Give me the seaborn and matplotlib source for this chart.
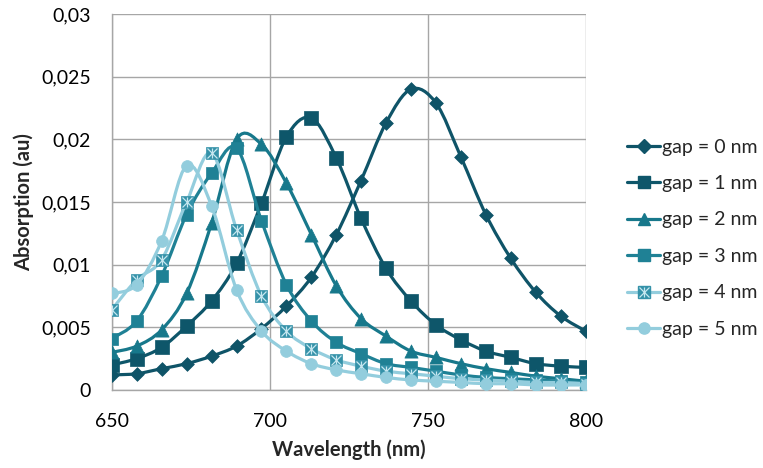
import numpy as np
import pandas as pd
import matplotlib
matplotlib.use("Agg")
import matplotlib.pyplot as plt
from matplotlib.path import Path
from matplotlib.patches import PathPatch
from matplotlib.lines import Line2D
from matplotlib.legend_handler import HandlerTuple
from matplotlib.ticker import FuncFormatter
import seaborn as sns

sns.set_style("white")
plt.rcParams['font.family'] = ['Lato', 'DejaVu Sans']

# wavelength grid (nm)
wavelength = [650.0, 657.9, 665.8, 673.7, 681.6, 689.5, 697.4, 705.3, 713.2, 721.1,
              728.9, 736.8, 744.7, 752.6, 760.5, 768.4, 776.3, 784.2, 792.1, 800.0]

# absorption per gap size
gap0 = [0.0012, 0.0013, 0.0017, 0.0021, 0.0027, 0.0035, 0.0049, 0.0067, 0.0090, 0.0124,
        0.0167, 0.0213, 0.0240, 0.0229, 0.0186, 0.0140, 0.0105, 0.0078, 0.0059, 0.0047]
gap1 = [0.0020, 0.0025, 0.0034, 0.0051, 0.0071, 0.0101, 0.0149, 0.0202, 0.0217, 0.0185,
        0.0137, 0.0097, 0.0071, 0.0052, 0.0040, 0.0031, 0.0026, 0.0021, 0.0019, 0.0018]
gap2 = [0.0030, 0.0035, 0.0048, 0.0077, 0.0133, 0.0200, 0.0196, 0.0165, 0.0124, 0.0083,
        0.0057, 0.0043, 0.0031, 0.0026, 0.0021, 0.0017, 0.0014, 0.0011, 0.0009, 0.0007]
gap3 = [0.0041, 0.0055, 0.0091, 0.0140, 0.0173, 0.0193, 0.0135, 0.0084, 0.0055, 0.0038,
        0.0029, 0.0021, 0.0018, 0.0015, 0.0012, 0.0010, 0.0009, 0.0008, 0.0007, 0.0006]
gap4 = [0.0064, 0.0088, 0.0104, 0.0150, 0.0189, 0.0128, 0.0075, 0.0047, 0.0033, 0.0024,
        0.0019, 0.0015, 0.0013, 0.0011, 0.0009, 0.0008, 0.0007, 0.0006, 0.0006, 0.0005]
gap5 = [0.0077, 0.0084, 0.0119, 0.0179, 0.0147, 0.0080, 0.0047, 0.0031, 0.0021, 0.0016,
        0.0013, 0.0010, 0.0008, 0.0007, 0.0006, 0.0005, 0.0005, 0.0004, 0.0004, 0.0004]

labels = ["gap = 0 nm", "gap = 1 nm", "gap = 2 nm", "gap = 3 nm", "gap = 4 nm", "gap = 5 nm"]
series = [gap0, gap1, gap2, gap3, gap4, gap5]
line_colors = ["#0f5468", "#0e566a", "#17788b", "#1f8195", "#93cddd", "#93cddd"]
marker_colors = ["#0f5468", "#0e566a", "#17788b", "#1f8195", "#3592a9", "#93cddd"]
markers = ["D", "s", "^", "s", "s", "o"]
msizes = [7, 9.5, 9.5, 9, 9, 8.5]

y_ticks = [0, 0.005, 0.01, 0.015, 0.02, 0.025, 0.03]
x_ticks = [650, 700, 750, 800]

grid_color = "#a6a6a6"
cross_color = "#c6e7f0"


def smooth_path(xs, ys):
    # excel-like smoothed line: catmull-rom segments as cubic beziers
    pts = np.column_stack([xs, ys])
    verts = [pts[0]]
    codes = [Path.MOVETO]
    n = len(pts)
    for i in range(n - 1):
        p0 = pts[max(i - 1, 0)]
        p1 = pts[i]
        p2 = pts[i + 1]
        p3 = pts[min(i + 2, n - 1)]
        c1 = p1 + (p2 - p0) / 6.0
        c2 = p2 - (p3 - p1) / 6.0
        verts += [c1, c2, p2]
        codes += [Path.CURVE4] * 3
    return Path(verts, codes)


fig = plt.figure(figsize=(7.63, 4.68), dpi=100)
ax = fig.add_axes([0.1464, 0.1667, 0.7676 - 0.1464, 0.9701 - 0.1667])

handles = []
for i, vals in enumerate(series):
    df = pd.DataFrame({"wavelength": wavelength, "absorption": vals})
    ax.add_patch(PathPatch(smooth_path(df["wavelength"], df["absorption"]),
                           facecolor="none", edgecolor=line_colors[i],
                           lw=2.3, zorder=3 + 2 * i, capstyle="round"))
    sns.scatterplot(
        data=df, x="wavelength", y="absorption", ax=ax,
        marker=markers[i], s=msizes[i] ** 2, color=marker_colors[i],
        edgecolor=marker_colors[i], linewidth=0.5, zorder=4 + 2 * i, legend=False
    )
    h = Line2D([], [], color=line_colors[i], lw=2.3, marker=markers[i],
               ms=msizes[i] * 0.95, markerfacecolor=marker_colors[i],
               markeredgecolor=marker_colors[i])
    if i == 4:
        # x plus vertical stroke inside the gap 4 squares
        for m in ["x", "|"]:
            sns.scatterplot(
                data=df, x="wavelength", y="absorption", ax=ax,
                marker=m, s=(msizes[i] * 0.8) ** 2, color=cross_color,
                linewidth=0.9, zorder=4 + 2 * i + 0.5, legend=False
            )
        hx = Line2D([], [], lw=0, marker="x", ms=msizes[i] * 0.75,
                    markeredgecolor=cross_color, markeredgewidth=0.9)
        hv = Line2D([], [], lw=0, marker="|", ms=msizes[i] * 0.75,
                    markeredgecolor=cross_color, markeredgewidth=0.9)
        h = (h, hx, hv)
    handles.append(h)

ax.set_xlim(650, 800)
ax.set_ylim(0, 0.03)
ax.set_xticks(x_ticks)
ax.set_yticks(y_ticks)
ax.yaxis.set_major_formatter(FuncFormatter(lambda v, p: f"{v:g}".replace(".", ",")))

ax.grid(True, color=grid_color, lw=1)
ax.set_axisbelow(True)
for side in ["top", "right"]:
    ax.spines[side].set_visible(False)
for side in ["left", "bottom"]:
    ax.spines[side].set_color(grid_color)
    ax.spines[side].set_linewidth(1)
ax.tick_params(axis="both", length=4.3, width=1, color=grid_color,
               labelsize=14, labelcolor="#000000")
ax.tick_params(axis="y", pad=10.5)
ax.tick_params(axis="x", pad=12)

ax.set_xlabel("Wavelength (nm)", fontsize=14.5, fontweight="bold", labelpad=7)
ax.set_ylabel("Absorption (au)", fontsize=14.5, fontweight="bold", labelpad=5)

fig.legend(handles, labels, loc="center left", bbox_to_anchor=(0.8218, 0.491),
           frameon=False, fontsize=14, handlelength=1.7, handletextpad=0.1,
           labelspacing=1.0, borderaxespad=0, borderpad=0,
           handler_map={tuple: HandlerTuple(ndivide=1, pad=0)})

fig.savefig("out.png", dpi=100)
